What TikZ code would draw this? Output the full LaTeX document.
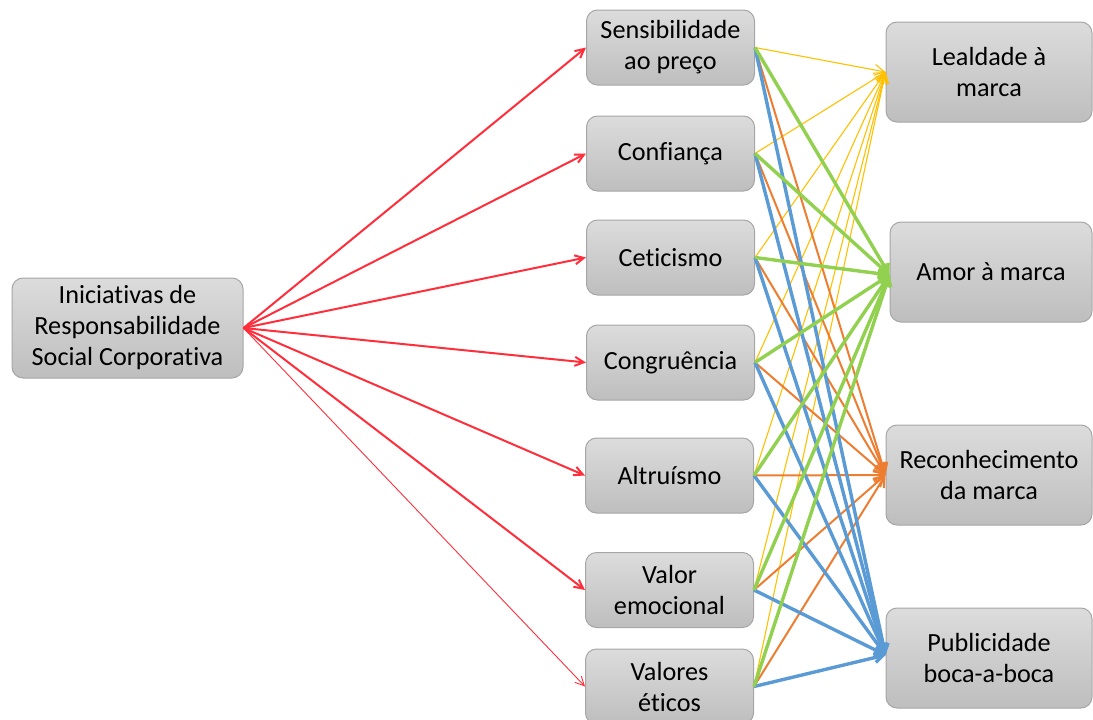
\documentclass[tikz,border=0pt]{standalone}
\usepackage{fontspec}
\setmainfont{Carlito}[Ligatures={NoCommon}]
\usetikzlibrary{arrows.meta}
\definecolor{cred}{HTML}{FF2E3A}
\definecolor{cyel}{HTML}{FFC000}
\definecolor{cgrn}{HTML}{92D050}
\definecolor{corg}{HTML}{ED7D31}
\definecolor{cblu}{HTML}{5B9BD5}
\definecolor{boxtop}{HTML}{DCDCDC}
\definecolor{boxbot}{HTML}{BEBEBE}
\definecolor{boxline}{HTML}{A6A6A6}
\begin{document}
\begin{tikzpicture}[x=1pt,y=-1pt,
  box/.style={draw=boxline, line width=1pt, rounded corners=11pt, top color=boxtop, bottom color=boxbot,
    align=center, inner sep=0pt, font=\fontsize{26.2}{31}\selectfont},
  midbox/.style={box, minimum width=168pt, minimum height=75pt},
  rbox/.style={box, minimum width=206pt, minimum height=100pt},
  redarr/.style={draw=cred, line width=2pt, -{Straight Barb[length=9pt,width=9pt]}},
  yelarr/.style={draw=cyel, line width=1.1pt, -{Straight Barb[length=10pt,width=11pt]}},
  orgarr/.style={draw=corg, line width=2pt, -{Straight Barb[length=10pt,width=11pt]}},
  grnarr/.style={draw=cgrn, line width=3.4pt, -{Straight Barb[length=8pt,width=10pt]}},
  bluarr/.style={draw=cblu, line width=3.4pt, -{Straight Barb[length=8pt,width=10pt]}}
]
\useasboundingbox (0,0) rectangle (1093,720);

\node[box, minimum width=231pt, minimum height=100pt] (src) at (127.5,328) {Iniciativas de\\Responsabilidade\\Social Corporativa};

\node[midbox] (m1) at (670.5,47.5) {Sensibilidade\\ao preço};
\node[midbox] (m2) at (670.5,153.5) {Confiança};
\node[midbox] (m3) at (670.5,257.5) {Ceticismo};
\node[midbox] (m4) at (670.5,362.5) {Congruência};
\node[midbox] (m5) at (669.5,475.5) {Altruísmo};
\node[midbox] (m6) at (669.5,590) {Valor\\emocional};
\node[midbox] (m7) at (669.5,686.5) {Valores\\éticos};

\node[rbox] (r1) at (989,72) {Lealdade à\\marca};
\node[rbox, minimum width=202pt] (r2) at (991,272) {Amor à marca};
\node[rbox] (r3) at (989,475) {Reconhecimento\\da marca};
\node[rbox] (r4) at (989,658) {Publicidade\\boca-a-boca};

\coordinate (tY) at (r1.west);
\coordinate (tG) at ([yshift=-3pt]r2.west);
\coordinate (tO) at (r3.west);
\coordinate (tB) at ([yshift=3pt]r4.west);

\foreach \i in {1,...,6} \draw[redarr] (src.east) -- (m\i.west);
\draw[redarr, line width=0.9pt] (src.east) -- (m7.west);

\foreach \i in {1,...,7} \draw[yelarr] (m\i.east) -- (tY);
\foreach \i in {1,...,7} \draw[orgarr] (m\i.east) -- (tO);
\foreach \i in {1,...,7} \draw[bluarr] (m\i.east) -- (tB);
\foreach \i in {1,...,7} \draw[grnarr] (m\i.east) -- (tG);
\end{tikzpicture}
\end{document}
